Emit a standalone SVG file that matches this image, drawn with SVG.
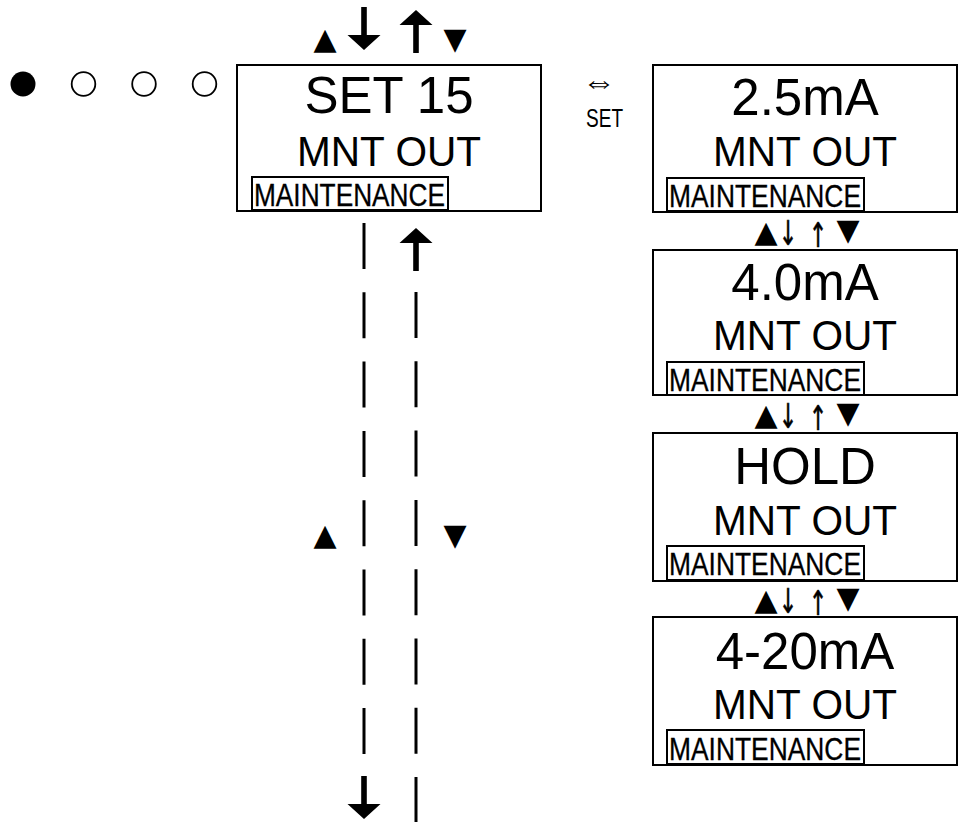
<svg xmlns="http://www.w3.org/2000/svg" width="965" height="822" viewBox="0 0 965 822">
<style>
  text { font-family: "Liberation Sans", Arial, sans-serif; fill: #000; }
  .box { fill: #fff; stroke: #000; stroke-width: 2; }
  .tag { fill: none; stroke: #000; stroke-width: 2; }
  .big { font-size: 51px; text-anchor: middle; }
  .mid { font-size: 42px; text-anchor: middle; }
  .small { font-size: 31px; stroke: #000; stroke-width: 0.3; }
  .tri { font-family: "DejaVu Sans", sans-serif; font-size: 30px; text-anchor: middle; fill: #000; }
  .arr { font-family: "DejaVu Sans", sans-serif; font-size: 34px; text-anchor: middle; fill: #000; stroke: #000; stroke-width: 0.6; }
  .dash { stroke: #000; stroke-width: 3; stroke-dasharray: 46 23.3; fill: none; }
  .dot { fill: none; stroke: #000; stroke-width: 1.8; }
</style>
<defs>
  <polygon id="bigdown" points="-2.8,-43 2.8,-43 2.8,-15 16.5,-15 0,0 -16.5,-15 -2.8,-15"/>
</defs>
<rect width="965" height="822" fill="#fff"/>

<g id="indicator">
  <circle cx="23" cy="84" r="12.5" fill="#000"/>
  <circle class="dot" cx="83.5" cy="84" r="11.8"/>
  <circle class="dot" cx="144" cy="84" r="11.8"/>
  <circle class="dot" cx="204.5" cy="84" r="11.8"/>
</g>

<g id="top-keys">
  <text class="tri" x="325" y="49">▲</text>
  <use href="#bigdown" x="364" y="50"/>
  <use href="#bigdown" transform="translate(416,10) scale(1,-1)"/>
  <text class="tri" x="455" y="49">▼</text>
</g>

<g id="node-set15">
  <rect class="box" x="237" y="65" width="304" height="146"/>
  <text class="big" x="389" y="113">SET 15</text>
  <text class="mid" x="389" y="166" textLength="184" lengthAdjust="spacingAndGlyphs">MNT OUT</text>
  <rect class="tag" x="252" y="177" width="196" height="33"/>
  <text class="small" x="254" y="206" textLength="191" lengthAdjust="spacingAndGlyphs">MAINTENANCE</text>
</g>

<g id="set-key">
  <text x="599" y="93" font-size="34" text-anchor="middle" font-family="DejaVu Sans, sans-serif">⇔</text>
  <text x="604.5" y="127" font-size="25" text-anchor="middle" textLength="37" lengthAdjust="spacingAndGlyphs">SET</text>
</g>

<g id="node-2-5mA">
  <rect class="box" x="653" y="65" width="304" height="147"/>
  <text class="big" x="805" y="115">2.5mA</text>
  <text class="mid" x="805" y="166" textLength="184" lengthAdjust="spacingAndGlyphs">MNT OUT</text>
  <rect class="tag" x="667" y="178" width="197" height="33"/>
  <text class="small" x="669" y="207" textLength="192" lengthAdjust="spacingAndGlyphs">MAINTENANCE</text>
</g>

<g id="node-4-0mA">
  <rect class="box" x="653" y="250" width="304" height="145"/>
  <text class="big" x="805" y="300">4.0mA</text>
  <text class="mid" x="805" y="350" textLength="184" lengthAdjust="spacingAndGlyphs">MNT OUT</text>
  <rect class="tag" x="667" y="362" width="197" height="33"/>
  <text class="small" x="669" y="391" textLength="192" lengthAdjust="spacingAndGlyphs">MAINTENANCE</text>
</g>

<g id="node-hold">
  <rect class="box" x="653" y="433" width="304" height="148"/>
  <text class="big" x="805" y="484">HOLD</text>
  <text class="mid" x="805" y="535" textLength="184" lengthAdjust="spacingAndGlyphs">MNT OUT</text>
  <rect class="tag" x="667" y="546" width="197" height="34"/>
  <text class="small" x="669" y="575" textLength="192" lengthAdjust="spacingAndGlyphs">MAINTENANCE</text>
</g>

<g id="node-4-20mA">
  <rect class="box" x="653" y="617" width="304" height="148"/>
  <text class="big" x="805" y="669">4-20mA</text>
  <text class="mid" x="805" y="719" textLength="184" lengthAdjust="spacingAndGlyphs">MNT OUT</text>
  <rect class="tag" x="667" y="730" width="197" height="34"/>
  <text class="small" x="669" y="760" textLength="192" lengthAdjust="spacingAndGlyphs">MAINTENANCE</text>
</g>

<g id="connectors">
  <g id="keys-1">
    <text class="tri" x="766" y="242">▲</text>
    <text class="arr" transform="translate(788,245) scale(0.65,1)">↓</text>
    <text class="arr" transform="translate(818,247) scale(0.65,1)">↑</text>
    <text class="tri" x="848" y="240">▼</text>
  </g>
  <g id="keys-2">
    <text class="tri" x="766" y="425">▲</text>
    <text class="arr" transform="translate(788,428) scale(0.65,1)">↓</text>
    <text class="arr" transform="translate(818,430) scale(0.65,1)">↑</text>
    <text class="tri" x="848" y="423">▼</text>
  </g>
  <g id="keys-3">
    <text class="tri" x="766" y="610">▲</text>
    <text class="arr" transform="translate(788,613) scale(0.65,1)">↓</text>
    <text class="arr" transform="translate(818,615) scale(0.65,1)">↑</text>
    <text class="tri" x="848" y="608">▼</text>
  </g>
  <path class="dash" d="M364,223 V754"/>
  <path class="dash" d="M416,292 V823"/>
  <use href="#bigdown" transform="translate(416,228) scale(1,-1)"/>
  <use href="#bigdown" x="364" y="819"/>
  <text class="tri" x="325" y="545">▲</text>
  <text class="tri" x="455" y="545">▼</text>
</g>
</svg>
